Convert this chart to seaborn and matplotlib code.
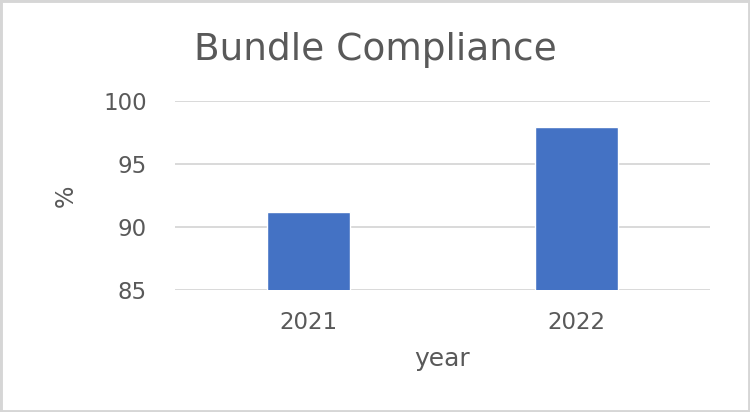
import seaborn as sns
import pandas as pd
import matplotlib.pyplot as plt
from matplotlib.patches import Rectangle

# data
years = ["2021", "2022"]
compliance = [91.2, 97.9]
y_ticks = [85, 90, 95, 100]

df = pd.DataFrame({"year": years, "pct": compliance})

sns.set_style("white")
plt.rcParams["font.family"] = ["DejaVu Sans"]

fig = plt.figure(figsize=(7.5, 4.12), dpi=100)
ax = fig.add_axes([0.233, 0.296, 0.714, 0.459])

sns.barplot(data=df, x="year", y="pct", color="#4472C4", saturation=1,
            width=0.31, ax=ax, zorder=3)

ax.set_ylim(85, 100)
ax.set_yticks(y_ticks)
ax.grid(axis="y", color="#d9d9d9", linewidth=1.4, zorder=0)
for s in ax.spines.values():
    s.set_visible(False)
ax.tick_params(axis="both", length=0, labelsize=16.5, colors="#595959")
ax.tick_params(axis="y", pad=20)
ax.tick_params(axis="x", pad=15)

ax.set_xlabel("year", fontsize=18, color="#595959")
ax.xaxis.set_label_coords(0.5, -0.30)
ax.xaxis.label.set_va("top")
ax.set_ylabel("%", fontsize=17, color="#595959")
ax.yaxis.set_label_coords(-0.203, 0.5)
ax.yaxis.label.set_va("center")

fig.text(0.5, 0.854, "Bundle Compliance", ha="center", va="baseline",
         fontsize=27, color="#595959")

# light border around the picture
fig.patches.append(Rectangle((0, 0), 1, 1, transform=fig.transFigure,
                             fill=False, edgecolor="#d6d6d6", linewidth=3.5))

fig.savefig("out.png", dpi=100)
